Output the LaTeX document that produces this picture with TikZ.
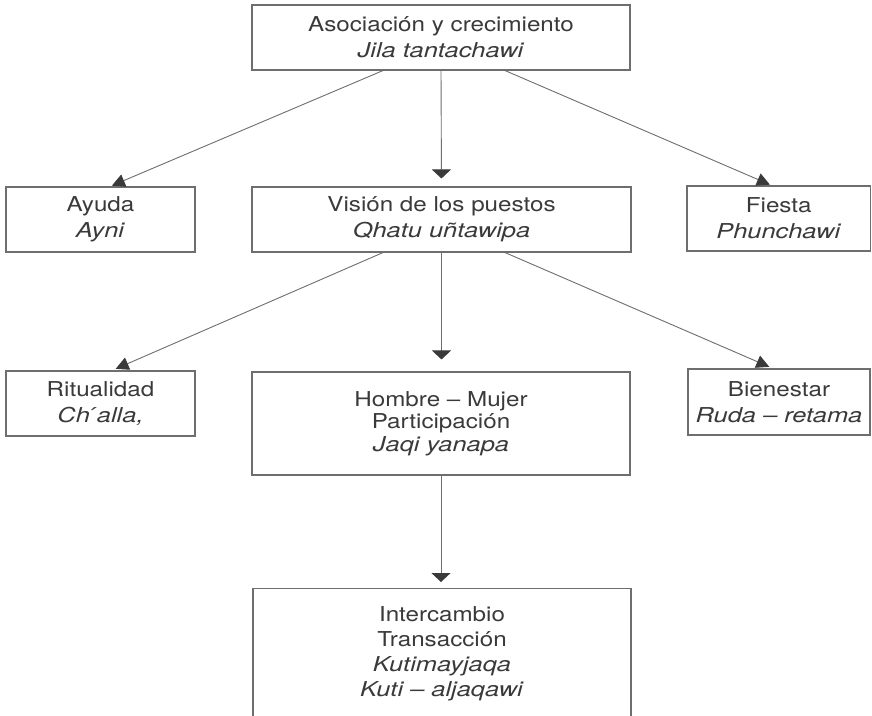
\documentclass[tikz,border=0pt]{standalone}
\usepackage{fontspec}
\setmainfont{TeX Gyre Heros}[FakeStretch=1.18,ItalicFeatures={FakeStretch=1.24}]
\usetikzlibrary{arrows.meta}
\definecolor{ink}{HTML}{3A3A3A}
\definecolor{rule}{HTML}{6E6E6E}
\begin{document}
\begin{tikzpicture}[x=1pt,y=-1pt,
  box/.style={draw=rule,line width=1.1pt,rectangle,inner sep=0pt,align=center,
    text=ink,font=\fontsize{20.5}{26}\selectfont},
  link/.style={draw=rule,line width=0.9pt},
  down/.style={link,arrows={-{Triangle[length=9pt,width=19pt,fill=ink,color=ink]}}},
  slant/.style={link,arrows={-{Triangle[length=13pt,width=13pt,fill=ink,color=ink]}}}]
\useasboundingbox (0,0) rectangle (872,715);
\clip (0,0) rectangle (872,715);
\fill[white] (0,0) rectangle (872,715);

% boxes
\node[box,minimum width=378pt,minimum height=65pt] (top) at (441,37.5)
  {Asociación y crecimiento\\\textit{Jila tantachawi}};
\node[box,minimum width=189pt,minimum height=65pt] (ayuda) at (100.5,219.5)
  {Ayuda\\\textit{Ayni}};
\node[box,minimum width=379pt,minimum height=65pt] (vision) at (441.5,219.5)
  {Visión de los puestos\\\textit{Qhatu uñtawipa}};
\node[box,minimum width=183.5pt,minimum height=65pt] (fiesta) at (778.75,218.5)
  {Fiesta\\\textit{Phunchawi}};
\node[box,minimum width=189pt,minimum height=65pt] (ritual) at (100.5,403.5)
  {Ritualidad\\\textit{Ch\'{}alla,}};
\node[box,minimum width=378pt,minimum height=103pt,font=\fontsize{20.5}{22.5}\selectfont] (hombre) at (441,423.5)
  {Hombre – Mujer\\Participación\\\textit{Jaqi yanapa}};
\node[box,minimum width=182pt,minimum height=66pt] (bien) at (779,402)
  {Bienestar\\\textit{Ruda – retama}};
\node[box,minimum width=378pt,anchor=north,inner ysep=18pt,text depth=60pt,font=\fontsize{20.5}{25}\selectfont] (inter) at (442,588)
  {Intercambio\\Transacción\\\textit{Kutimayjaqa}\\\textit{Kuti – aljaqawi}};

% connectors
\draw[slant,shorten >=2pt] ([xshift=-58pt]top.south) -- ([xshift=9.5pt]ayuda.north);
\draw[down,shorten >=8pt] (top.south) -- (vision.north);
\draw[slant,shorten >=2pt] ([xshift=64pt]top.south) -- ([xshift=-7pt]fiesta.north);
\draw[slant,shorten >=4pt] ([xshift=-58.5pt]vision.south) -- ([xshift=11.5pt]ritual.north);
\draw[down,shorten >=12pt] (vision.south) -- (vision.south |- hombre.north);
\draw[slant,shorten >=4pt] ([xshift=63.5pt]vision.south) -- ([xshift=-6pt]bien.north);
\draw[down,shorten >=6pt] (hombre.south) -- (hombre.south |- inter.north);
\end{tikzpicture}
\end{document}
